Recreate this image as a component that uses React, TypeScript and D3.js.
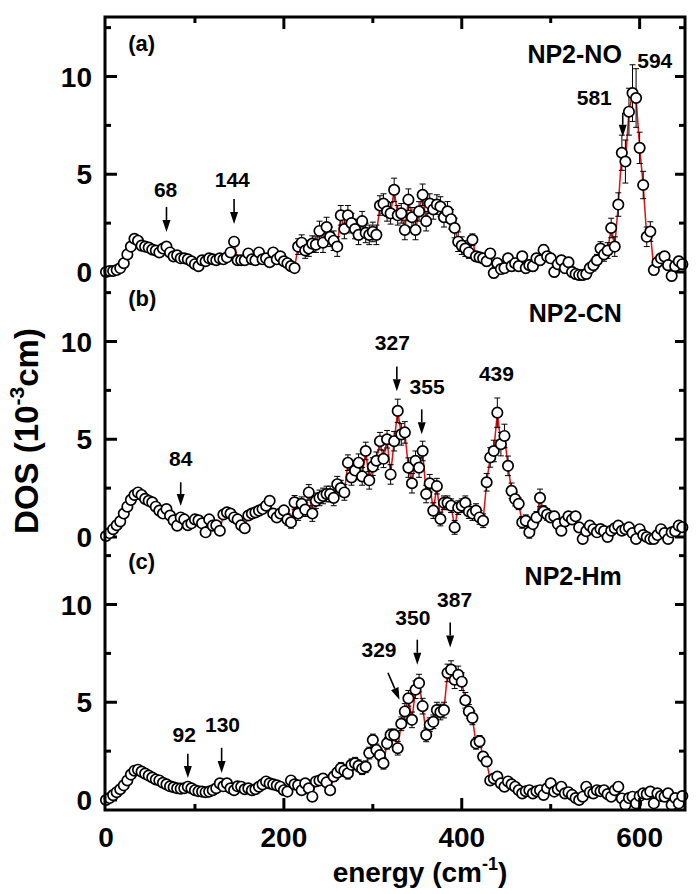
import * as d3 from "d3";

// energy grid (cm^-1)
const ENERGY = [
  0, 4, 8, 12, 16, 20, 24, 28, 32, 36,
  40, 44, 48, 52, 56, 60, 64, 68, 72, 76,
  80, 84, 88, 92, 96, 100, 104, 108, 112, 116,
  120, 124, 128, 132, 136, 140, 144, 148, 152, 156,
  160, 164, 168, 172, 176, 180, 184, 188, 192, 196,
  200, 204, 208, 212, 216, 220, 224, 228, 232, 236,
  240, 244, 248, 252, 256, 260, 264, 268, 272, 276,
  280, 284, 288, 292, 296, 300, 304, 308, 312, 316,
  320, 324, 328, 332, 336, 340, 344, 348, 352, 356,
  360, 364, 368, 372, 376, 380, 384, 388, 392, 396,
  400, 404, 408, 412, 416, 420, 424, 428, 432, 436,
  440, 444, 448, 452, 456, 460, 464, 468, 472, 476,
  480, 484, 488, 492, 496, 500, 504, 508, 512, 516,
  520, 524, 528, 532, 536, 540, 544, 548, 552, 556,
  560, 564, 568, 572, 576, 580, 584, 588, 592, 596,
  600, 604, 608, 612, 616, 620, 624, 628, 632, 636,
  640, 644, 648,
];

// (a) NP2-NO
const DOS_NO = [
  0.0, 0.05, 0.05, 0.1, 0.2, 0.45, 0.9, 1.3, 1.7, 1.6,
  1.35, 1.3, 1.25, 1.15, 1.1, 1.0, 1.2, 1.3, 1.0, 0.8,
  0.85, 0.7, 0.7, 0.65, 0.55, 0.4, 0.3, 0.6, 0.55, 0.7,
  0.65, 0.6, 0.7, 0.65, 0.75, 1.0, 1.55, 0.6, 0.6, 0.6,
  0.95, 0.65, 0.6, 1.0, 0.65, 0.7, 0.5, 1.0, 0.65, 0.8,
  0.55, 0.45, 0.3, 0.2, 1.3, 1.5, 1.1, 1.2, 1.45, 1.4,
  2.1, 1.5, 2.3, 1.8, 1.6, 1.3, 2.9, 2.2, 2.9, 2.5,
  2.2, 1.9, 2.6, 2.0, 1.9, 2.05, 1.9, 3.4, 3.5, 3.1,
  3.0, 4.2, 2.9, 3.0, 2.15, 3.7, 2.8, 2.15, 3.1, 3.95,
  2.6, 3.5, 3.2, 3.45, 3.35, 2.8, 3.1, 2.7, 2.25, 1.55,
  1.35, 1.2, 1.0, 1.65, 0.8, 0.75, 0.7, 0.55, 0.95, -0.05,
  0.45, 0.15, 0.2, 0.7, 0.3, 0.45, 0.3, 0.8, 0.2, 0.35,
  0.3, 0.7, 0.6, 1.13, 0.8, 0.7, 0.0, 0.4, 0.6, 0.2,
  0.5, 0.0, -0.1, -0.15, -0.15, -0.1, 0.2, 0.35, 0.6, 1.2,
  0.9, 1.1, 2.25, 1.3, 3.45, 6.1, 5.65, 8.2, 9.15, 8.9,
  6.35, 4.45, 1.8, 2.07, 0.1, 0.5, 0.7, 0.8, 0.35, -0.2,
  0.3, 0.55, 0.4,
];
const ERR_NO = [
  0.1, 0.1, 0.1, 0.1, 0.1, 0.1, 0.1, 0.1, 0.1, 0.1,
  0.1, 0.1, 0.1, 0.1, 0.1, 0.1, 0.1, 0.1, 0.1, 0.1,
  0.1, 0.1, 0.1, 0.1, 0.1, 0.15, 0.15, 0.15, 0.15, 0.15,
  0.15, 0.15, 0.15, 0.15, 0.15, 0.15, 0.15, 0.15, 0.15, 0.15,
  0.15, 0.15, 0.15, 0.15, 0.15, 0.15, 0.15, 0.15, 0.15, 0.15,
  0.15, 0.15, 0.15, 0.15, 0.4, 0.4, 0.4, 0.4, 0.4, 0.4,
  0.5, 0.5, 0.5, 0.5, 0.5, 0.5, 0.5, 0.5, 0.5, 0.5,
  0.5, 0.5, 0.5, 0.5, 0.5, 0.5, 0.5, 0.5, 0.5, 0.5,
  0.55, 0.6, 0.5, 0.5, 0.5, 0.55, 0.5, 0.5, 0.5, 0.55,
  0.5, 0.5, 0.5, 0.5, 0.5, 0.5, 0.5, 0.5, 0.5, 0.5,
  0.45, 0.4, 0.3, 0.3, 0.25, 0.25, 0.25, 0.25, 0.25, 0.25,
  0.25, 0.25, 0.25, 0.25, 0.25, 0.25, 0.25, 0.25, 0.25, 0.25,
  0.25, 0.25, 0.25, 0.25, 0.25, 0.25, 0.25, 0.25, 0.25, 0.25,
  0.25, 0.25, 0.25, 0.25, 0.25, 0.25, 0.25, 0.3, 0.3, 0.35,
  0.35, 0.4, 0.5, 0.5, 0.6, 0.9, 1.1, 1.2, 1.45, 1.5,
  0.8, 0.7, 0.5, 0.5, 0.25, 0.25, 0.25, 0.25, 0.25, 0.25,
  0.25, 0.25, 0.25,
];

// (b) NP2-CN
const DOS_CN = [
  0.05, 0.2, 0.4, 0.6, 0.8, 1.2, 1.55, 1.9, 2.15, 2.28,
  2.15, 1.95, 1.85, 1.77, 1.55, 1.35, 1.2, 1.43, 1.1, 0.85,
  0.58, 1.0, 0.9, 0.6, 0.7, 0.9, 0.85, 0.7, 0.24, 0.9,
  0.58, 0.6, 0.32, 1.15, 1.26, 1.2, 1.0, 0.9, 0.6, 0.45,
  1.1, 1.2, 1.26, 1.35, 1.43, 1.6, 1.85, 1.2, 1.0, 1.2,
  1.36, 0.9, 0.75, 1.77, 1.2, 1.7, 1.4, 2.28, 1.2, 1.85,
  2.0, 2.1, 2.2, 2.2, 2.0, 2.7, 2.5, 2.28, 3.8, 3.05,
  3.4, 3.8, 3.1, 4.4, 2.9, 3.6, 3.9, 4.9, 4.0, 5.0,
  3.2, 4.9, 6.45, 5.25, 5.35, 3.55, 2.75, 3.9, 3.55, 4.4,
  2.2, 2.75, 1.35, 2.6, 0.92, 1.75, 1.75, 1.6, 0.49, 1.5,
  1.6, 1.75, 1.3, 1.2, 1.35, 1.0, 0.83, 2.8, 4.07, 4.4,
  6.36, 4.75, 5.17, 3.64, 2.36, 1.94, 1.7, 0.75, 0.83, 0.24,
  0.66, 1.0, 2.0, 1.3, 1.15, 1.0, 1.06, 0.66, 0.32, 0.8,
  1.06, 0.9, 1.06, 0.49, -0.1, 0.3, 0.58, 0.4, 0.24, 0.41,
  0.3, 0.0, 0.32, 0.45, 0.58, 0.32, 0.4, 0.49, 0.2, -0.1,
  0.4, 0.1, 0.0, -0.1, -0.1, 0.1, 0.4, 0.2, -0.1, 0.24,
  0.3, 0.58, 0.5,
];
const ERR_CN = [
  0.1, 0.1, 0.1, 0.1, 0.1, 0.1, 0.1, 0.1, 0.1, 0.1,
  0.1, 0.1, 0.1, 0.1, 0.1, 0.1, 0.1, 0.1, 0.1, 0.1,
  0.1, 0.1, 0.1, 0.1, 0.1, 0.1, 0.1, 0.1, 0.1, 0.1,
  0.1, 0.1, 0.1, 0.1, 0.1, 0.1, 0.1, 0.1, 0.1, 0.1,
  0.15, 0.15, 0.15, 0.15, 0.15, 0.15, 0.15, 0.15, 0.15, 0.15,
  0.2, 0.3, 0.3, 0.35, 0.35, 0.35, 0.35, 0.4, 0.4, 0.4,
  0.4, 0.4, 0.4, 0.4, 0.4, 0.4, 0.4, 0.4, 0.4, 0.4,
  0.45, 0.45, 0.45, 0.45, 0.45, 0.45, 0.45, 0.45, 0.45, 0.45,
  0.5, 0.5, 0.6, 0.55, 0.55, 0.5, 0.5, 0.5, 0.5, 0.5,
  0.45, 0.45, 0.4, 0.4, 0.35, 0.35, 0.35, 0.35, 0.35, 0.35,
  0.35, 0.35, 0.35, 0.35, 0.35, 0.35, 0.35, 0.45, 0.5, 0.55,
  0.75, 0.6, 0.6, 0.5, 0.4, 0.35, 0.3, 0.3, 0.3, 0.3,
  0.3, 0.3, 0.45, 0.3, 0.3, 0.25, 0.25, 0.25, 0.25, 0.25,
  0.2, 0.2, 0.2, 0.2, 0.2, 0.2, 0.2, 0.2, 0.2, 0.2,
  0.2, 0.2, 0.2, 0.2, 0.2, 0.2, 0.2, 0.2, 0.2, 0.2,
  0.2, 0.2, 0.2, 0.2, 0.2, 0.2, 0.2, 0.2, 0.2, 0.2,
  0.2, 0.2, 0.2,
];

// (c) NP2-Hm
const DOS_HM = [
  0.0, 0.1, 0.25, 0.4, 0.55, 0.75, 1.0, 1.3, 1.5, 1.55,
  1.45, 1.35, 1.25, 1.15, 1.05, 1.0, 0.88, 0.8, 0.7, 0.65,
  0.6, 0.58, 0.6, 0.68, 0.6, 0.5, 0.45, 0.43, 0.4, 0.43,
  0.5, 0.6, 0.85, 0.7, 0.85, 0.6, 0.5, 0.7, 0.68, 0.55,
  0.6, 0.5, 0.55, 0.68, 0.8, 0.95, 0.85, 0.8, 0.75, 0.68,
  0.5, 0.43, 1.0, 0.8, 0.75, 0.5, 0.85, 0.6, 0.17, 0.95,
  1.0, 1.1, 0.9, 0.5, 1.2, 1.4, 1.62, 1.5, 1.37, 1.8,
  1.88, 1.75, 1.6, 1.7, 2.4, 3.07, 2.56, 2.3, 1.88, 2.9,
  3.33, 3.33, 2.65, 3.9, 4.53, 5.2, 4.1, 5.64, 5.98, 4.8,
  3.33, 3.85, 4.0, 4.6, 4.5, 4.6, 6.5, 6.67, 6.15, 6.4,
  6.05, 5.1, 4.53, 4.2, 2.9, 3.0, 2.22, 1.97, 1.0, 1.1,
  1.2, 0.85, 0.68, 0.95, 0.8, 0.68, 0.5, 0.34, 0.45, 0.5,
  0.34, 0.45, 0.5, 0.26, 0.6, 0.85, 0.43, 0.55, 0.68, 0.34,
  0.4, 0.26, 0.1, 0.0, 0.17, 0.68, 0.4, 0.34, 0.5, 0.45,
  0.5, 0.3, 0.17, 0.5, 0.68, 0.08, -0.25, 0.1, 0.17, -0.17,
  0.2, 0.34, 0.3, 0.43, -0.17, 0.34, 0.2, 0.17, 0.34, -0.25,
  0.1, -0.17, 0.2,
];
const ERR_HM = [
  0.12, 0.12, 0.12, 0.12, 0.12, 0.12, 0.12, 0.12, 0.12, 0.12,
  0.12, 0.12, 0.12, 0.12, 0.12, 0.12, 0.12, 0.12, 0.12, 0.12,
  0.12, 0.12, 0.12, 0.12, 0.12, 0.12, 0.12, 0.12, 0.12, 0.12,
  0.12, 0.12, 0.12, 0.12, 0.12, 0.12, 0.12, 0.12, 0.12, 0.12,
  0.12, 0.12, 0.12, 0.12, 0.12, 0.12, 0.12, 0.12, 0.12, 0.12,
  0.12, 0.12, 0.12, 0.12, 0.12, 0.12, 0.12, 0.12, 0.12, 0.12,
  0.12, 0.12, 0.15, 0.2, 0.25, 0.25, 0.3, 0.3, 0.3, 0.3,
  0.3, 0.3, 0.3, 0.3, 0.3, 0.3, 0.3, 0.3, 0.3, 0.3,
  0.3, 0.3, 0.35, 0.35, 0.4, 0.4, 0.4, 0.45, 0.45, 0.4,
  0.35, 0.35, 0.35, 0.4, 0.4, 0.4, 0.45, 0.45, 0.45, 0.45,
  0.45, 0.4, 0.35, 0.35, 0.3, 0.3, 0.25, 0.25, 0.2, 0.2,
  0.15, 0.15, 0.15, 0.15, 0.15, 0.15, 0.15, 0.15, 0.15, 0.15,
  0.15, 0.15, 0.15, 0.15, 0.15, 0.15, 0.15, 0.15, 0.15, 0.15,
  0.15, 0.15, 0.15, 0.15, 0.15, 0.15, 0.15, 0.15, 0.15, 0.15,
  0.15, 0.15, 0.15, 0.15, 0.15, 0.15, 0.15, 0.15, 0.15, 0.15,
  0.15, 0.15, 0.15, 0.15, 0.15, 0.15, 0.15, 0.15, 0.15, 0.15,
  0.15, 0.15, 0.15,
];

// peak annotations: label, text centre (energy, DOS), arrow [x0, y0, x1, y1] in data units
type Note = { label: string; tx: number; ty: number; arrow: number[] | null };

const NOTES_NO: Note[] = [
  { label: "68", tx: 67, ty: 3.85, arrow: [68, 3.33, 68, 2.05] },
  { label: "144", tx: 142, ty: 4.36, arrow: [144, 3.74, 144, 2.46] },
  { label: "581", tx: 549, ty: 8.56, arrow: [581, 8.15, 581, 6.92] },
  { label: "594", tx: 617, ty: 10.46, arrow: null },
];
const NOTES_CN: Note[] = [
  { label: "84", tx: 84, ty: 3.62, arrow: [84, 2.8, 84, 1.58] },
  { label: "327", tx: 322, ty: 9.59, arrow: [327, 8.72, 327, 7.45] },
  { label: "355", tx: 361, ty: 7.3, arrow: [355, 6.53, 355, 5.26] },
  { label: "439", tx: 439, ty: 7.96, arrow: null },
];
const NOTES_HM: Note[] = [
  { label: "92", tx: 88, ty: 2.97, arrow: [92, 2.36, 92, 1.13] },
  { label: "130", tx: 131, ty: 3.49, arrow: [130, 2.67, 130, 1.38] },
  { label: "329", tx: 307, ty: 7.33, arrow: [317, 6.51, 330, 5.13] },
  { label: "350", tx: 345, ty: 8.97, arrow: [350, 8.2, 350, 6.92] },
  { label: "387", tx: 392, ty: 9.85, arrow: [387, 9.08, 387, 7.8] },
];

const PANELS = [
  { tag: "(a)", tagY: 11.3, name: "NP2-NO", nameY: 10.7, dos: DOS_NO, err: ERR_NO, notes: NOTES_NO, zero: 272 },
  { tag: "(b)", tagY: 11.8, name: "NP2-CN", nameY: 11.0, dos: DOS_CN, err: ERR_CN, notes: NOTES_CN, zero: 537 },
  { tag: "(c)", tagY: 11.8, name: "NP2-Hm", nameY: 11.0, dos: DOS_HM, err: ERR_HM, notes: NOTES_HM, zero: 800 },
];

const Y_TICKS = [0, 2.5, 5, 7.5, 10, 12.5];
const Y_LABELS = [0, 5, 10];
const X_TICKS = [100, 200, 300, 400, 500, 600];
const X_LABELS = [0, 200, 400, 600];

const W = 700;
const H = 894;
const LEFT = 105;
const RIGHT = 685;
const TOP = 17;
const BOTTOM = 810;
const UNIT = 19.55;
const FONT = "'Liberation Sans', Arial, Helvetica, sans-serif";
const RED = "#dd1111";

const x = d3.scaleLinear().domain([0, 651]).range([106, RIGHT]);

function Arrow({ x0, y0, x1, y1 }: { x0: number; y0: number; x1: number; y1: number }) {
  const ang = Math.atan2(y1 - y0, x1 - x0);
  const len = 12;
  const hw = 4;
  const bx = x1 - len * Math.cos(ang);
  const by = y1 - len * Math.sin(ang);
  const px = -Math.sin(ang) * hw;
  const py = Math.cos(ang) * hw;
  return (
    <g>
      <line x1={x0} y1={y0} x2={bx} y2={by} stroke="#000" strokeWidth={1.6} />
      <polygon points={`${x1},${y1} ${bx + px},${by + py} ${bx - px},${by - py}`} fill="#000" />
    </g>
  );
}

export default function App() {
  return (
    <svg width={W} height={H} style={{ position: "absolute", left: 0, top: 0, background: "#fff" }} fontFamily={FONT}>
      <rect x={0} y={0} width={W} height={H} fill="#fff" />
      {PANELS.map((p, pi) => {
        const y = d3.scaleLinear().domain([0, 10]).range([p.zero, p.zero - 10 * UNIT]);
        const pts = ENERGY.map((e, i) => ({ e, v: p.dos[i], s: p.err[i] }));
        const line = d3
          .line<{ e: number; v: number }>()
          .x((d) => x(d.e))
          .y((d) => y(d.v));
        return (
          <g key={pi}>
            {/* left / right ticks */}
            {Y_TICKS.map((t) => {
              const major = t % 5 === 0;
              const len = major ? 12 : 6;
              return (
                <g key={t}>
                  <line x1={LEFT} x2={LEFT + len} y1={y(t)} y2={y(t)} stroke="#000" strokeWidth={3} />
                  <line x1={RIGHT} x2={RIGHT - (major ? 10 : 6)} y1={y(t)} y2={y(t)} stroke="#000" strokeWidth={3} />
                </g>
              );
            })}
            {Y_LABELS.map((t) => (
              <text key={t} x={92} y={y(t)} dy="0.36em" textAnchor="end" fontSize={28} fontWeight="bold">
                {t}
              </text>
            ))}
            <path d={line(pts) || ""} fill="none" stroke={RED} strokeWidth={1.5} />
            {pts.map((d, i) => (
              <g key={i} stroke="#000" strokeWidth={1}>
                <line x1={x(d.e)} x2={x(d.e)} y1={y(d.v + d.s)} y2={y(d.v - d.s)} />
                <line x1={x(d.e) - 3} x2={x(d.e) + 3} y1={y(d.v + d.s)} y2={y(d.v + d.s)} />
                <line x1={x(d.e) - 3} x2={x(d.e) + 3} y1={y(d.v - d.s)} y2={y(d.v - d.s)} />
              </g>
            ))}
            {pts.map((d, i) => (
              <circle key={i} cx={x(d.e)} cy={y(d.v)} r={5.2} fill="#fff" stroke="#000" strokeWidth={1.7} />
            ))}
            <text x={x(25)} y={y(p.tagY)} fontSize={22} fontWeight="bold">
              {p.tag}
            </text>
            <text x={x(580)} y={y(p.nameY)} textAnchor="end" fontSize={25} fontWeight="bold">
              {p.name}
            </text>
            {p.notes.map((n) => (
              <g key={n.label}>
                <text x={x(n.tx)} y={y(n.ty)} textAnchor="middle" fontSize={21} fontWeight="bold">
                  {n.label}
                </text>
                {n.arrow && (
                  <Arrow x0={x(n.arrow[0])} y0={y(n.arrow[1])} x1={x(n.arrow[2])} y1={y(n.arrow[3])} />
                )}
              </g>
            ))}
          </g>
        );
      })}
      {/* top / bottom ticks */}
      {X_TICKS.map((t) => {
        const major = t % 200 === 0;
        const len = major ? 12 : 6;
        return (
          <g key={t}>
            <line x1={x(t)} x2={x(t)} y1={TOP} y2={TOP + len} stroke="#000" strokeWidth={3} />
            <line x1={x(t)} x2={x(t)} y1={BOTTOM} y2={BOTTOM - len} stroke="#000" strokeWidth={3} />
          </g>
        );
      })}
      {X_LABELS.map((t) => (
        <text key={t} x={x(t)} y={847} textAnchor="middle" fontSize={28} fontWeight="bold">
          {t}
        </text>
      ))}
      <rect x={LEFT} y={TOP} width={RIGHT - LEFT} height={BOTTOM - TOP} fill="none" stroke="#000" strokeWidth={3} />
      <text x={420} y={882} textAnchor="middle" fontSize={28} fontWeight="bold">
        energy (cm
        <tspan fontSize={18} dy={-12}>-1</tspan>
        <tspan dy={12}>)</tspan>
      </text>
      <text transform="translate(38,431) rotate(-90)" textAnchor="middle" fontSize={33} fontWeight="bold">
        DOS (10
        <tspan fontSize={21} dy={-14}>-3</tspan>
        <tspan dy={14}>cm)</tspan>
      </text>
    </svg>
  );
}
